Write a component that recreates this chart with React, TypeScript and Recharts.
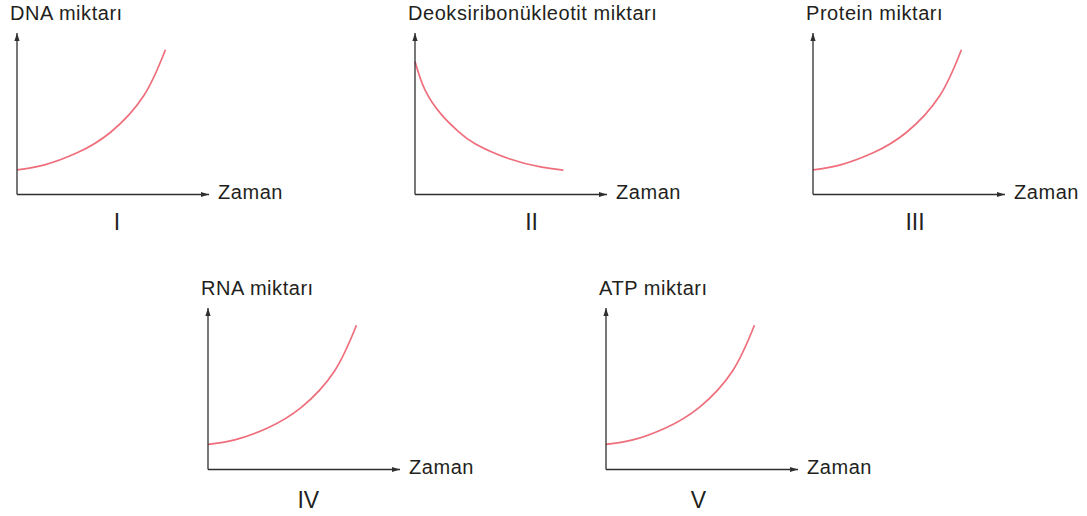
import React from 'react';
import { LineChart, Line, XAxis, YAxis, Label } from 'recharts';

// Five small "amount over time" sketches (I–V)
const panelTitles = [
  'DNA miktarı',
  'Deoksiribonükleotit miktarı',
  'Protein miktarı',
  'RNA miktarı',
  'ATP miktarı',
];
const panelNumerals = ['I', 'II', 'III', 'IV', 'V'];
const timeAxisTitle = 'Zaman';

// time positions (0–100 along the time axis)
const timeRise = [0, 13.9, 31.3, 48.6, 66.0, 77.3];
const timeFall = [0, 5.2, 13.9, 22.6, 31.3, 48.6, 66.0, 77.3];

// amounts (0–100 along the vertical axis)
const dnaAmount = [15.3, 18.2, 25.8, 38.4, 61.1, 89.6];
const nucleotideAmount = [82.4, 64.8, 49.3, 39.0, 31.4, 22.3, 16.9, 15.1];
const proteinAmount = [15.3, 18.2, 25.8, 38.4, 61.1, 89.6];
const rnaAmount = [15.5, 18.3, 25.9, 38.5, 61.2, 89.3];
const atpAmount = [15.5, 18.3, 25.9, 38.5, 61.2, 89.3];

const FONT = '"Liberation Sans", Arial, Helvetica, sans-serif';
const INK = '#231f20';
const AXIS = '#2f2f2f';
const CURVE = '#ef6e7c';

const PLOT_W = 192;
const PLOT_H = 161.5;
const AXIS_THICK = 1; // space reserved by each axis
const MARGIN = { top: 35, right: 80, bottom: 45, left: 10 };

const toRows = (xs: number[], ys: number[]) => xs.map((x, i) => ({ x, y: ys[i] }));

type PanelSpec = {
  title: string;
  numeral: string;
  rows: { x: number; y: number }[];
  ox: number; // axes corner in page pixels
  oy: number;
  numeralDx: number;
  numeralDy: number;
};

const panels: PanelSpec[] = [
  { title: panelTitles[0], numeral: panelNumerals[0], rows: toRows(timeRise, dnaAmount), ox: 16.6, oy: 194.7, numeralDx: 100, numeralDy: 35.3 },
  { title: panelTitles[1], numeral: panelNumerals[1], rows: toRows(timeFall, nucleotideAmount), ox: 414.6, oy: 194.7, numeralDx: 116.6, numeralDy: 35.3 },
  { title: panelTitles[2], numeral: panelNumerals[2], rows: toRows(timeRise, proteinAmount), ox: 812.7, oy: 194.7, numeralDx: 102, numeralDy: 35.3 },
  { title: panelTitles[3], numeral: panelNumerals[3], rows: toRows(timeRise, rnaAmount), ox: 208, oy: 469.3, numeralDx: 100.3, numeralDy: 38 },
  { title: panelTitles[4], numeral: panelNumerals[4], rows: toRows(timeRise, atpAmount), ox: 606, oy: 469.3, numeralDx: 92.3, numeralDy: 38 },
];

const textStyle = { fontFamily: FONT, fill: INK, letterSpacing: '0.55px' } as const;

function TimeAxisDecor({ viewBox, spec }: { viewBox: any; spec: PanelSpec }) {
  if (!viewBox) return null;
  const { x, y, width } = viewBox;
  const tip = x + width;
  return (
    <g>
      <path d={`M${tip},${y} L${tip - 8},${y - 2.6} L${tip - 8},${y + 2.6} Z`} fill={AXIS} />
      <text x={tip + 9} y={y + 4.5} fontSize={20} style={textStyle}>
        {timeAxisTitle}
      </text>
      <text x={x + spec.numeralDx} y={y + spec.numeralDy} fontSize={23} textAnchor="middle" style={{ fontFamily: FONT, fill: INK }}>
        {spec.numeral}
      </text>
    </g>
  );
}

function AmountAxisDecor({ viewBox, spec }: { viewBox: any; spec: PanelSpec }) {
  if (!viewBox) return null;
  const { x, y, width } = viewBox;
  const ax = x + (width || 0);
  return (
    <g>
      <path d={`M${ax},${y} L${ax - 2.6},${y + 8} L${ax + 2.6},${y + 8} Z`} fill={AXIS} />
      <text x={ax - 7} y={y - 13} fontSize={20} style={textStyle}>
        {spec.title}
      </text>
    </g>
  );
}

function Panel({ spec }: { spec: PanelSpec }) {
  const width = MARGIN.left + AXIS_THICK + PLOT_W + MARGIN.right;
  const height = MARGIN.top + PLOT_H + AXIS_THICK + MARGIN.bottom;
  return (
    <div
      style={{
        position: 'absolute',
        left: spec.ox - MARGIN.left - AXIS_THICK,
        top: spec.oy - PLOT_H - MARGIN.top,
      }}
    >
      <LineChart width={width} height={height} data={spec.rows} margin={MARGIN}>
        <XAxis
          dataKey="x"
          type="number"
          domain={[0, 100]}
          height={AXIS_THICK}
          tick={false}
          tickLine={false}
          axisLine={{ stroke: AXIS, strokeWidth: 1.3 }}
        >
          <Label content={(props: any) => <TimeAxisDecor viewBox={props.viewBox} spec={spec} />} />
        </XAxis>
        <YAxis
          type="number"
          domain={[0, 100]}
          width={AXIS_THICK}
          tick={false}
          tickLine={false}
          axisLine={{ stroke: AXIS, strokeWidth: 1.3 }}
        >
          <Label content={(props: any) => <AmountAxisDecor viewBox={props.viewBox} spec={spec} />} />
        </YAxis>
        <Line
          dataKey="y"
          type="natural"
          stroke={CURVE}
          strokeWidth={1.7}
          dot={false}
          activeDot={false}
          isAnimationActive={false}
        />
      </LineChart>
    </div>
  );
}

export default function App() {
  return (
    <div style={{ position: 'absolute', left: 0, top: 0, width: 1087, height: 516, background: '#ffffff', overflow: 'hidden' }}>
      {panels.map((p) => (
        <Panel key={p.numeral} spec={p} />
      ))}
    </div>
  );
}
